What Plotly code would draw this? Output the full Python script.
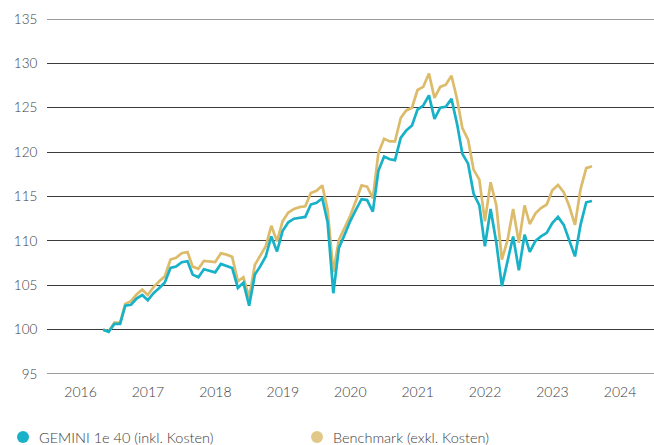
import pandas as pd
import plotly.graph_objects as go

# Monthly month-end observations, Oct 2016 .. Jan 2024
start_month = "2016-10-31"
n_months = 88
dates = pd.date_range(start_month, periods=n_months, freq="ME")

gemini = [
    100.0, 99.75, 100.65, 100.65, 102.7, 102.8, 103.5, 103.9, 103.3, 104.1,
    104.7, 105.3, 106.95, 107.1, 107.6, 107.7, 106.2, 105.9, 106.8, 106.6,
    106.45, 107.4, 107.2, 106.95, 104.7, 105.3, 102.7, 106.2, 107.1, 108.25,
    110.5, 108.8, 111.1, 112.1, 112.5, 112.6, 112.7, 114.1, 114.3, 114.8,
    112.1, 104.1, 109.2, 110.7, 112.2, 113.5, 114.7, 114.6, 113.3, 117.9,
    119.5, 119.2, 119.1, 121.6, 122.45, 123.0, 124.8, 125.25, 126.4, 123.75,
    125.0, 125.1, 126.0, 123.1, 119.8, 118.7, 115.3, 114.0, 109.4, 113.6,
    109.8, 104.9, 107.7, 110.5, 106.7, 110.7, 108.75, 110.0, 110.5, 110.9,
    112.0, 112.7, 111.8, 110.1, 108.25, 111.8, 114.35, 114.5,
]

benchmark = [
    100.0, 99.8, 100.8, 100.8, 102.9, 103.2, 103.95, 104.5, 103.9, 104.8,
    105.45, 106.0, 107.9, 108.1, 108.6, 108.75, 107.1, 106.85, 107.75, 107.7,
    107.6, 108.6, 108.45, 108.2, 105.45, 105.9, 103.6, 107.3, 108.25, 109.4,
    111.7, 109.95, 112.2, 113.2, 113.6, 113.8, 113.9, 115.4, 115.65, 116.25,
    113.5, 106.5, 110.1, 111.45, 112.8, 114.5, 116.25, 116.1, 114.8, 119.9,
    121.5, 121.2, 121.2, 123.85, 124.7, 125.0, 127.0, 127.35, 128.85, 126.1,
    127.35, 127.6, 128.6, 125.9, 122.7, 121.4, 118.0, 116.9, 112.2, 116.6,
    114.0, 107.9, 110.1, 113.6, 109.8, 114.0, 111.9, 113.1, 113.7, 114.1,
    115.7, 116.3, 115.5, 113.9, 111.8, 115.8, 118.2, 118.4,
]

year_labels = ["2016", "2017", "2018", "2019", "2020", "2021", "2022", "2023", "2024"]
series_names = ["GEMINI 1e 40 (inkl. Kosten)", "Benchmark (exkl. Kosten)"]
y_min, y_max = 95, 135

TEAL = "#17b1c8"
GOLD = "#dcbb6a"
TEAL_DOT = "#1ab2c8"
GOLD_DOT = "#e2c888"
FONT = "Lato"
TXT = "#3c3c3c"
GRID = "#3a3a3a"

W, H = 654, 445
ML, MR, MT, MB = 47, 0, 19, 71
PW, PH = W - ML - MR, H - MT - MB


def px_x(p):
    return (p - ML) / PW


def px_y(p):
    return (H - MB - p) / PH


fig = go.Figure()
fig.add_trace(go.Scatter(x=dates, y=benchmark, mode="lines", name=series_names[1],
                         line=dict(color=GOLD, width=2.7), hoverinfo="skip"))
fig.add_trace(go.Scatter(x=dates, y=gemini, mode="lines", name=series_names[0],
                         line=dict(color=TEAL, width=2.7), hoverinfo="skip"))

# edge gridlines (plotly skips grid lines at the very ends of the range)
for yv in (y_min, y_max):
    fig.add_shape(type="line", xref="paper", yref="y", x0=0, x1=1, y0=yv, y1=yv,
                  line=dict(color=GRID, width=1), layer="below")

# legend (drawn as round dots + text below the plot)
legend_items = [(series_names[0], TEAL_DOT, 23, 37), (series_names[1], GOLD_DOT, 317, 331)]
for name, col, dot_px, txt_px in legend_items:
    fig.add_shape(type="circle", xref="paper", yref="paper",
                  xsizemode="pixel", ysizemode="pixel",
                  xanchor=px_x(dot_px), yanchor=px_y(437),
                  x0=-6, x1=6, y0=-6, y1=6,
                  fillcolor=col, line=dict(width=0))
    fig.add_annotation(xref="paper", yref="paper", x=px_x(txt_px), y=px_y(437),
                       xanchor="left", yanchor="middle", text=name, showarrow=False,
                       font=dict(family=FONT, size=14.5, color=TXT, weight=300))

fig.update_layout(
    width=W, height=H,
    margin=dict(l=ML, r=MR, t=MT, b=MB, autoexpand=False),
    paper_bgcolor="white", plot_bgcolor="white",
    font=dict(family=FONT, size=13, color=TXT),
    showlegend=False,
)
fig.update_xaxes(
    type="date", range=["2016-01-01", "2025-01-01"],
    tickvals=[f"{y}-07-01" for y in year_labels], ticktext=year_labels,
    showgrid=False, zeroline=False, showline=False, automargin=False,
    ticks="outside", ticklen=5, tickcolor="rgba(0,0,0,0)",
    tickfont=dict(size=14, color=TXT, weight=300),
)
fig.update_yaxes(
    range=[y_min, y_max], dtick=5, tick0=95,
    showgrid=True, gridcolor=GRID, gridwidth=1, zeroline=False, showline=False,
    automargin=False,
    ticks="outside", ticklen=6, tickcolor="rgba(0,0,0,0)",
    tickfont=dict(size=13.5, color=TXT, weight=300),
)

fig.write_html("out.html", config={"displayModeBar": False},
               post_script="document.body.style.margin='0';document.body.style.overflow='hidden';")
